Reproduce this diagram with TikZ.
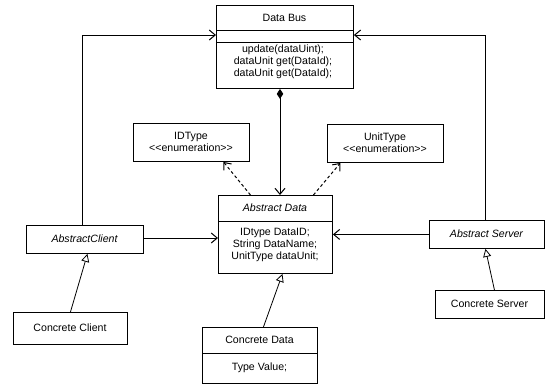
\documentclass[tikz,border=0pt]{standalone}
\usepackage{fontspec}
\setmainfont{Liberation Sans}
\usetikzlibrary{arrows.meta}
\begin{document}
\begin{tikzpicture}[x=1pt,y=-1pt,
  box/.style={draw,line width=0.9pt,rectangle,inner sep=0pt,anchor=north west},
  txt/.style={inner sep=0pt,font=\fontsize{10.6}{12}\selectfont,align=center},
  link/.style={line width=1pt},
  assoc/.style={link,-{Straight Barb[length=6pt,width=10pt,line width=1pt]}},
  gen/.style={line width=0.8pt,-{Triangle[open,length=8pt,width=8pt,line width=0.8pt]}},
  dep/.style={line width=1pt,dashed,dash pattern=on 3pt off 2.5pt,-{Straight Barb[length=6pt,width=10pt,line width=1pt]}},
  comp/.style={link,{Diamond[length=10pt,width=6.5pt]}-{Straight Barb[length=6pt,width=10pt,line width=1pt]}}]
\useasboundingbox (0,0) rectangle (555,386);

% Data Bus class
\node[box,minimum width=137pt,minimum height=83pt] (db) at (216,5) {};
\draw[line width=0.9pt] (db.west |- 0,30) -- (db.east |- 0,30);
\draw[line width=0.9pt] (db.west |- 0,42) -- (db.east |- 0,42);
\node[txt] (dbt) at (284.5,17.5) {Data Bus};
\node[txt] (dbm) at (283,62) {update(dataUint);\\dataUnit get(DataId);\\dataUnit get(DataId);};

% enumerations
\node[box,minimum width=116pt,minimum height=38pt] (idt) at (133,123) {};
\node[txt] (idtt) at (191,142) {IDType\\{<}{<}enumeration{>}{>}};
\node[box,minimum width=116pt,minimum height=38pt] (ut) at (327,124) {};
\node[txt] (utt) at (385,143) {UnitType\\{<}{<}enumeration{>}{>}};

% Abstract Data class
\node[box,minimum width=114pt,minimum height=78pt] (ad) at (218,195) {};
\draw[line width=0.9pt] (ad.west |- 0,221) -- (ad.east |- 0,221);
\node[txt] (adt) at (275,208) {\itshape Abstract Data};
\node[txt] (adm) at (275,245) {IDtype DataID;\\String DataName;\\UnitType dataUnit;};

% Concrete Data class
\node[box,minimum width=115pt,minimum height=56pt] (cd) at (202,327) {};
\draw[line width=0.9pt] (cd.west |- 0,353) -- (cd.east |- 0,353);
\node[txt] (cdt) at (259.5,340) {Concrete Data};
\node[txt] (cdm) at (259.5,368) {Type Value;};

% client side
\node[box,minimum width=117pt,minimum height=28pt] (ac) at (26,225) {};
\node[txt] (act) at (84.5,239) {\itshape AbstractClient};
\node[box,minimum width=114pt,minimum height=32pt] (cc) at (13,312) {};
\node[txt] (cct) at (70,328) {Concrete Client};

% server side
\node[box,minimum width=115pt,minimum height=28pt] (as) at (429,220) {};
\node[txt] (ast) at (486.5,234) {\itshape Abstract Server};
\node[box,minimum width=109pt,minimum height=28pt] (cs) at (435,290) {};
\node[txt] (cst) at (489.5,304) {Concrete Server};

% connectors to the data bus
\coordinate (lc) at (82,35);
\coordinate (rc) at (485,35);
\draw[assoc] (ac.north -| lc) -- (lc) -- (db.west |- lc);
\draw[assoc] (as.north -| rc) -- (rc) -- (db.east |- rc);

% bus composition of data
\draw[comp] (db.south -| 280,0) -- (ad.north -| 280,0);

% dependencies on the enumerations
\draw[dep] ([xshift=-25pt]ad.north) -- ([xshift=32pt]idt.south);
\draw[dep] ([xshift=38pt]ad.north) -- ([xshift=-45pt]ut.south);

% associations to abstract data
\draw[assoc] (ac.east |- 0,238) -- (ad.west |- 0,238);
\draw[assoc,line width=1.4pt] (as.west) -- (ad.east |- as.west);

% generalizations
\draw[gen] (cc.north) -- ([xshift=2.5pt]ac.south);
\draw[gen] ([xshift=3.5pt]cd.north) -- ([xshift=7pt]ad.south);
\draw[gen] ([xshift=4.5pt]cs.north) -- ([xshift=-1.5pt]as.south);
\end{tikzpicture}
\end{document}
